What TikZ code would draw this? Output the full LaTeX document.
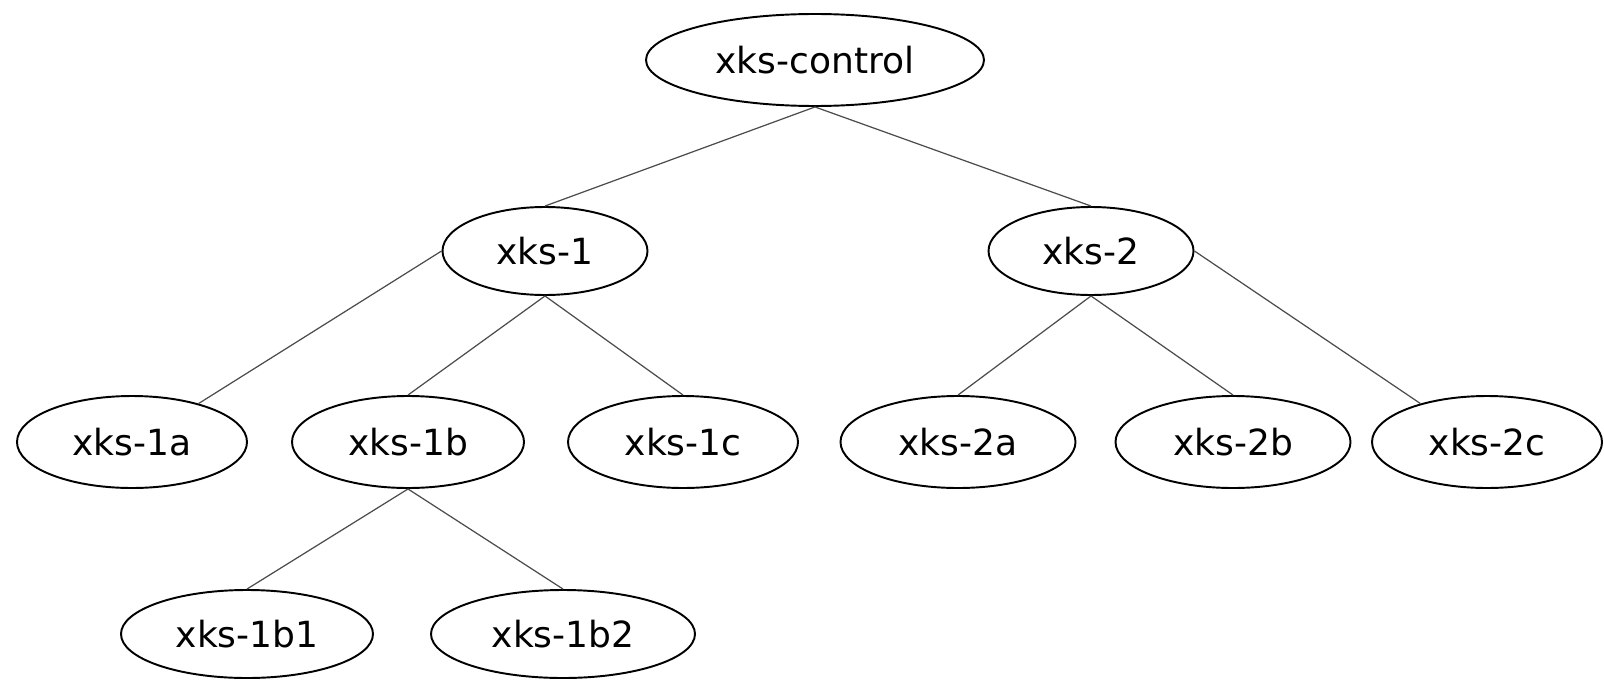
\documentclass[tikz,border=0pt]{standalone}
\usepackage{fontspec}
\setmainfont{DejaVu Sans}
\usetikzlibrary{shapes.geometric}
\begin{document}
\begin{tikzpicture}[x=0.02cm,y=-0.02cm,
  treenode/.style={ellipse,draw=black,line width=1.1pt,inner sep=0pt,
    font=\fontsize{20.5}{24}\selectfont},
  size/.style 2 args={minimum width=#1*0.02cm,minimum height=#2*0.02cm},
  treeedge/.style={draw=black!70,line width=0.7pt}]
  \useasboundingbox (0,0) rectangle (1604,679);
  % nodes
  \node[treenode,size={338}{92}] (ctl) at (815,60) {xks-control};
  \node[treenode,size={205}{88}] (n1) at (545,251) {xks-1};
  \node[treenode,size={205}{88}] (n2) at (1091,251) {xks-2};
  \node[treenode,size={230}{92}] (n1a) at (132,442) {xks-1a};
  \node[treenode,size={232}{92}] (n1b) at (408,442) {xks-1b};
  \node[treenode,size={230}{92}] (n1c) at (683,442) {xks-1c};
  \node[treenode,size={235}{92}] (n2a) at (958,442) {xks-2a};
  \node[treenode,size={235}{92}] (n2b) at (1233,442) {xks-2b};
  \node[treenode,size={230}{92}] (n2c) at (1487,442) {xks-2c};
  \node[treenode,size={252}{88}] (n1b1) at (247,634) {xks-1b1};
  \node[treenode,size={264}{88}] (n1b2) at (563,634) {xks-1b2};
  % edges
  \draw[treeedge] (ctl.south) -- (n1.north);
  \draw[treeedge] (ctl.south) -- (n2.north);
  \draw[treeedge] (n1.west) -- (n1a.30);
  \draw[treeedge] (n1.south) -- (n1b.north);
  \draw[treeedge] (n1.south) -- (n1c.north);
  \draw[treeedge] (n2.south) -- (n2a.north);
  \draw[treeedge] (n2.south) -- (n2b.north);
  \draw[treeedge] (n2.east) -- (n2c.150);
  \draw[treeedge] (n1b.south) -- (n1b1.north);
  \draw[treeedge] (n1b.south) -- (n1b2.north);
\end{tikzpicture}
\end{document}
